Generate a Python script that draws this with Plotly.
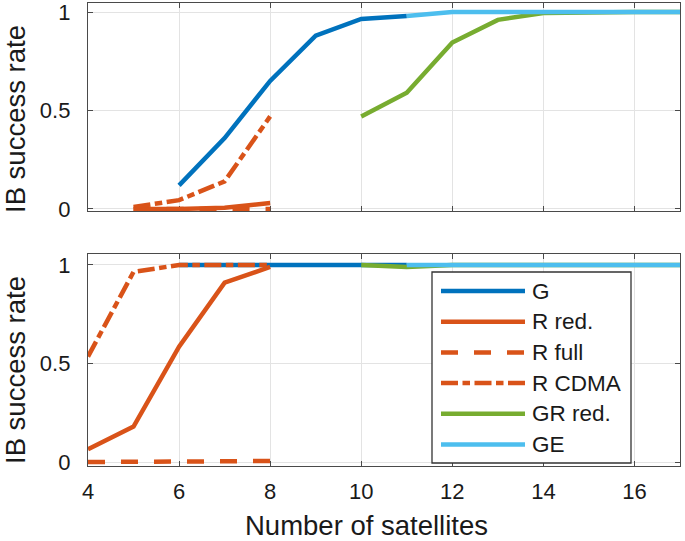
import plotly.graph_objects as go

# ---------------- data ----------------
series_names = ["G", "R red.", "R full", "R CDMA", "GR red.", "GE"]
series_colors = ["#0072BD", "#D95319", "#D95319", "#D95319", "#77AC30", "#4DBEEE"]
series_dash = ["solid", "solid", "17px,16px", "17px,4.5px,7.5px,4.5px", "solid", "solid"]

# top panel
top_G_x = [6, 7, 8, 9, 10, 11]
top_G_y = [0.12, 0.36, 0.65, 0.88, 0.965, 0.98]
top_Rred_x = [5, 6, 7, 8]
top_Rred_y = [0.0, 0.0, 0.006, 0.03]
top_Rfull_x = [5, 6, 7, 8]
top_Rfull_y = [0.0, 0.0, 0.0, 0.0]
top_RCDMA_x = [5, 6, 7, 8]
top_RCDMA_y = [0.01, 0.045, 0.14, 0.47]
top_GR_x = [10, 11, 12, 13, 14, 15, 16, 17]
top_GR_y = [0.47, 0.59, 0.845, 0.96, 0.995, 1.0, 1.0, 1.0]
top_GE_x = [11, 12, 13, 14, 15, 16, 17]
top_GE_y = [0.98, 1.0, 1.0, 1.0, 1.0, 1.0, 1.0]

# bottom panel
bot_G_x = [6, 7, 8, 9, 10, 11]
bot_G_y = [1.0, 1.0, 1.0, 1.0, 1.0, 1.0]
bot_Rred_x = [4, 5, 6, 7, 8]
bot_Rred_y = [0.065, 0.18, 0.585, 0.91, 0.99]
bot_Rfull_x = [4, 5, 6, 7, 8]
bot_Rfull_y = [0.0, 0.0, 0.0, 0.0, 0.005]
bot_RCDMA_x = [4, 5, 6, 7, 8]
bot_RCDMA_y = [0.535, 0.965, 1.0, 1.0, 1.0]
bot_GR_x = [10, 11, 12, 13, 14, 15, 16, 17]
bot_GR_y = [1.0, 0.99, 1.0, 1.0, 1.0, 1.0, 1.0, 1.0]
bot_GE_x = [11, 12, 13, 14, 15, 16, 17]
bot_GE_y = [1.0, 1.0, 1.0, 1.0, 1.0, 1.0, 1.0]

x_ticks = [4, 6, 8, 10, 12, 14, 16]
y_ticks = [0, 0.5, 1]
y_tick_labels = ["0", "0.5", "1"]
x_label = "Number of satellites"
y_label = "IB success rate"

# ---------------- figure ----------------
FONT = "Liberation Sans, Arial, Helvetica, sans-serif"
LW = 4.5
W, H = 685, 541
ML, MR, MT, MB = 88, 5, 3, 75
PW, PH = W - ML - MR, H - MT - MB

top_sets = [(top_G_x, top_G_y), (top_Rred_x, top_Rred_y), (top_Rfull_x, top_Rfull_y),
            (top_RCDMA_x, top_RCDMA_y), (top_GR_x, top_GR_y), (top_GE_x, top_GE_y)]
bot_sets = [(bot_G_x, bot_G_y), (bot_Rred_x, bot_Rred_y), (bot_Rfull_x, bot_Rfull_y),
            (bot_RCDMA_x, bot_RCDMA_y), (bot_GR_x, bot_GR_y), (bot_GE_x, bot_GE_y)]

fig = go.Figure()
for i, (xs, ys) in enumerate(top_sets):
    fig.add_trace(go.Scatter(x=xs, y=ys, mode="lines", name=series_names[i],
                             line=dict(color=series_colors[i], width=LW, dash=series_dash[i]),
                             xaxis="x", yaxis="y", showlegend=False, cliponaxis=False))
for i, (xs, ys) in enumerate(bot_sets):
    fig.add_trace(go.Scatter(x=xs, y=ys, mode="lines", name=series_names[i],
                             line=dict(color=series_colors[i], width=LW, dash=series_dash[i]),
                             xaxis="x2", yaxis="y2", showlegend=False, cliponaxis=False))

def px_x(p):
    return (p - ML) / PW

def px_y(p):
    return (H - MB - p) / PH

axis_common = dict(showline=True, linecolor="#4a4a4a", linewidth=1.3, mirror="allticks",
                   ticks="inside", ticklen=5, tickwidth=1.2, tickcolor="#4a4a4a",
                   showgrid=True, gridcolor="#e3e3e3", gridwidth=1.2, zeroline=False,
                   automargin=False, layer="below traces", ticklabeloverflow="allow",
                   tickfont=dict(family=FONT, size=22, color="#1a1a1a"))

top_dom = [(H - MB - 211) / PH, 1.0]
bot_dom = [0.0, (H - MB - 254) / PH]
title_font = dict(family=FONT, size=27.5, color="#1a1a1a")

fig.update_layout(
    template="none",
    width=W, height=H,
    margin=dict(l=ML, r=MR, t=MT, b=MB, autoexpand=False),
    plot_bgcolor="white", paper_bgcolor="white",
    font=dict(family=FONT, color="#1a1a1a"),
    showlegend=False,
    xaxis=dict(axis_common, anchor="y", domain=[0, 1], range=[4, 17],
               tickvals=x_ticks, showticklabels=False),
    yaxis=dict(axis_common, anchor="x", domain=top_dom, range=[-0.0102, 1.0457],
               tickvals=y_ticks, ticktext=y_tick_labels, ticklabelstandoff=12),
    xaxis2=dict(axis_common, anchor="y2", domain=[0, 1], range=[4, 17],
                tickvals=x_ticks, ticklabelstandoff=5),
    yaxis2=dict(axis_common, anchor="x2", domain=bot_dom, range=[-0.0203, 1.0558],
                tickvals=y_ticks, ticktext=y_tick_labels, ticklabelstandoff=12),
)

annotations = []
# axis titles
annotations.append(dict(text=x_label, xref="paper", yref="paper", x=px_x(366), y=px_y(525),
                        xanchor="center", yanchor="middle", showarrow=False, font=title_font))
for yc in (119, 370):
    annotations.append(dict(text=y_label, xref="paper", yref="paper", x=px_x(15), y=px_y(yc),
                            xanchor="center", yanchor="middle", showarrow=False,
                            textangle=-90, font=title_font))

# ---------------- legend (drawn in the bottom panel corner) ----------------
shapes = [dict(type="rect", xref="paper", yref="paper",
               x0=px_x(432), x1=px_x(631), y0=px_y(463), y1=px_y(272),
               line=dict(color="#333333", width=1.3), fillcolor="white", layer="above")]
row0, step = 291, 30.7
for i, name in enumerate(series_names):
    yc = px_y(row0 + i * step)
    shapes.append(dict(type="line", xref="paper", yref="paper",
                       x0=px_x(441), x1=px_x(525), y0=yc, y1=yc, layer="above",
                       line=dict(color=series_colors[i], width=LW, dash=series_dash[i])))
    annotations.append(dict(text=name, xref="paper", yref="paper", x=px_x(530), y=yc,
                            xanchor="left", yanchor="middle", showarrow=False,
                            font=dict(family=FONT, size=22.5, color="#1a1a1a")))
fig.update_layout(shapes=shapes, annotations=annotations)

fig.write_html("out.html", config={"displayModeBar": False},
               post_script="document.body.style.margin='0';document.body.style.overflow='hidden';")
